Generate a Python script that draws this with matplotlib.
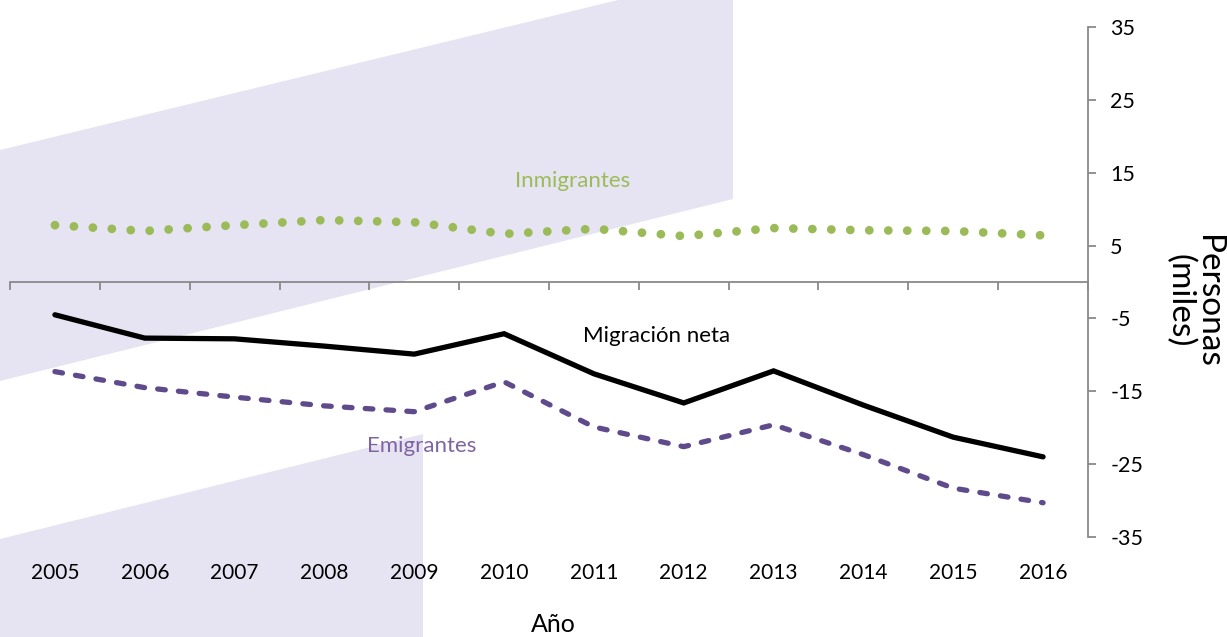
import matplotlib
matplotlib.use("Agg")
import matplotlib.pyplot as plt
from matplotlib.patches import Polygon
from matplotlib.transforms import blended_transform_factory

plt.rcParams['font.family'] = ['Lato', 'DejaVu Sans']

# data (miles de personas)
years = ["2005", "2006", "2007", "2008", "2009", "2010",
         "2011", "2012", "2013", "2014", "2015", "2016"]
inmigrantes = [7.8, 7.0, 7.8, 8.5, 8.2, 6.6, 7.3, 6.3, 7.4, 7.1, 7.0, 6.4]
emigrantes = [-12.3, -14.5, -15.8, -17.0, -17.8, -13.7,
              -19.9, -22.6, -19.6, -23.7, -28.3, -30.3]
neta = [-4.5, -7.7, -7.8, -8.8, -9.9, -7.1,
        -12.6, -16.6, -12.2, -16.9, -21.3, -24.0]
yticks = [35, 25, 15, 5, -5, -15, -25, -35]

W, H = 1227, 637
fig = plt.figure(figsize=(W / 100, H / 100), dpi=100)

def px(x, y):
    # pixel position -> figure fraction
    return (x / W, 1 - y / H)

# lavender background bands
lav = "#E6E4F2"
top_band = [px(0, 150), px(618, 0), px(733, 0), px(733, 199), px(0, 381)]
low_band = [px(0, 539), px(423, 434), px(423, 637), px(0, 637)]
for pts in (top_band, low_band):
    fig.add_artist(Polygon(pts, closed=True, facecolor=lav, edgecolor="none",
                           transform=fig.transFigure, zorder=-5))

ax = fig.add_axes([10 / W, 1 - 537 / H, 1078 / W, 510 / H])
ax.patch.set_visible(False)

x = list(range(len(years)))
ax.plot(x, inmigrantes, color="#9BBB59", lw=6.3, linestyle=(0, (0.01, 2.16)),
        dash_capstyle="round", zorder=3)
ax.plot(x, emigrantes, color="#5F4B8B", lw=3.8, linestyle=(0, (1.45, 2.5)),
        dash_capstyle="round", zorder=3)
ax.plot(x, neta, color="black", lw=3.8, solid_capstyle="round",
        solid_joinstyle="miter", zorder=4)

ax.set_xlim(-0.5, len(years) - 0.5)
ax.set_ylim(-35, 35)

# spines: horizontal axis at zero, value axis on the right
ax.spines["left"].set_visible(False)
ax.spines["top"].set_visible(False)
ax.spines["bottom"].set_position(("data", 0))
ax.spines["bottom"].set_color("#898989")
ax.spines["right"].set_color("#898989")
ax.spines["bottom"].set_linewidth(1.3)
ax.spines["right"].set_linewidth(1.3)

ax.set_xticks([i - 0.5 for i in range(len(years) + 1)])
ax.set_xticklabels([])
ax.tick_params(axis="x", direction="out", length=6, width=1.3, color="#898989")

ax.yaxis.tick_right()
ax.set_yticks(yticks)
ax.set_yticklabels([str(v) for v in yticks])
ax.tick_params(axis="y", direction="out", length=6, width=1.3, color="#898989",
               labelsize=15.5, pad=10)

# year labels at the bottom
trans = blended_transform_factory(ax.transData, fig.transFigure)
for i, yr in enumerate(years):
    ax.text(i, 1 - 573 / H, yr, transform=trans, ha="center", va="center",
            fontsize=15)

fig.text(553 / W, 1 - 625 / H, "Año", ha="center", va="center", fontsize=18)
fig.text(1194 / W, 1 - 301 / H, "Personas\n(miles)", rotation=-90,
         ha="center", va="center", multialignment="center", fontsize=24,
         linespacing=0.92)

# series labels
fig.text(573 / W, 1 - 181 / H, "Inmigrantes", color="#9BBB59",
         ha="center", va="center", fontsize=16)
fig.text(657 / W, 1 - 336 / H, "Migración neta", color="black",
         ha="center", va="center", fontsize=16)
fig.text(422 / W, 1 - 446 / H, "Emigrantes", color="#8064A2",
         ha="center", va="center", fontsize=16)

fig.savefig("out.png", dpi=100)
